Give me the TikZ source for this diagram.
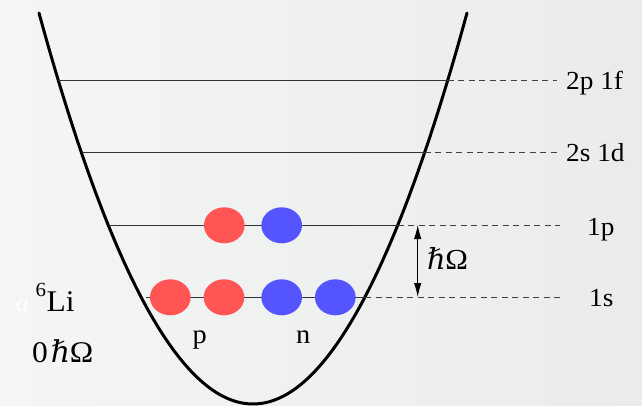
\documentclass[tikz,border=0pt]{standalone}
\usepackage{fontspec}
\setmainfont{Liberation Serif}[FakeStretch=1.05]
\newfontfamily\dvs{DejaVu Serif}
\usetikzlibrary{shapes.geometric,arrows.meta}
\definecolor{bgL}{HTML}{F4F5F5}
\definecolor{bgR}{HTML}{EAEBEB}
\definecolor{proton}{HTML}{FF5555}
\definecolor{neutron}{HTML}{5555FF}
\newcommand{\hOm}{{\dvs\itshape ℏ}\kern-0.5pt Ω}
\begin{document}
\begin{tikzpicture}[x=1pt,y=-1pt,
  level/.style={line width=1pt, draw=black!80},
  ext/.style={line width=0.9pt, draw=black!75, dash pattern=on 6pt off 4.5pt},
  lab/.style={anchor=base west, inner sep=0pt, font=\fontsize{26}{26}\selectfont},
  nucleon/.style={ellipse, minimum width=40.7pt, minimum height=36pt, inner sep=0pt, draw=none},
  prot/.style={nucleon, fill=proton},
  neut/.style={nucleon, fill=neutron},
  well/.style={line width=3pt, line cap=round},
  gap/.style={line width=1pt, {Latex[length=14pt,width=7.5pt]}-{Latex[length=14pt,width=7.5pt]}}
]
\shade[left color=bgL, right color=bgR] (0,0) rectangle (642,406);
\useasboundingbox (0,0) rectangle (642,406);

% potential well
\coordinate (wl) at (39,13);
\coordinate (wr) at (467,13);
\draw[well] (wl) .. controls (181.67,534.33) and (324.33,534.33) .. (wr);

% levels
\coordinate (a2p) at (58.3,80.3);  \coordinate (b2p) at (447.7,80.3);  \coordinate (c2p) at (557,80.3);
\coordinate (a2s) at (81.6,152.7); \coordinate (b2s) at (424.6,152.7); \coordinate (c2s) at (561,152.7);
\coordinate (a1p) at (108.5,225);  \coordinate (b1p) at (397.8,225);   \coordinate (c1p) at (560,225);
\coordinate (a1s) at (146,297);    \coordinate (b1s) at (365,297);     \coordinate (c1s) at (563,297);

\draw[level] (a2p) -- (b2p); \draw[ext] (b2p) -- (c2p);
\draw[level] (a2s) -- (b2s); \draw[ext] (b2s) -- (c2s);
\draw[level] (a1p) -- (b1p); \draw[ext] (b1p) -- (c1p);
\draw[level] (a1s) -- (b1s); \draw[ext] (b1s) -- (c1s);

\node[lab] (t2p) at (566,89.3) {2p 1f};
\node[lab] (t2s) at (566,161.7) {2s 1d};
\node[lab] (t1p) at (587,235) {1p};
\node[lab] (t1s) at (589,306.5) {1s};

% nucleons
\node[prot] (p3) at (224.3,225.3) {};
\node[neut] (n3) at (281.7,225.3) {};
\node[prot] (p1) at (170.3,297.3) {};
\node[prot] (p2) at (224,297.3) {};
\node[neut] (n1) at (281.7,297.3) {};
\node[neut] (n2) at (335.3,297.3) {};

\node[lab, font=\fontsize{27}{27}\selectfont] (pl) at (192.5,343) {p};
\node[lab, font=\fontsize{27}{27}\selectfont] (nl) at (296,343) {n};

% spacing arrow
\coordinate (h1) at (417.7,225);
\coordinate (h0) at (417.7,297);
\draw[gap] (h1) -- (h0);
\node[lab, font=\fontsize{29}{29}\selectfont] (hw) at (427,269.5) {\hOm};

% nucleus label
\node[lab, font=\fontsize{26}{26}\selectfont\itshape, text=white] (aa) at (15.5,311.3) {a};
\node[lab, font=\fontsize{30}{30}\selectfont] (li) at (35.5,311.3) {{\fontsize{20}{20}\selectfont\raisebox{15pt}{6}}\kern0.5pt Li};
\node[lab, font=\fontsize{30}{30}\selectfont] (zh) at (32,362.3) {0\kern3pt\hOm};
\end{tikzpicture}
\end{document}
